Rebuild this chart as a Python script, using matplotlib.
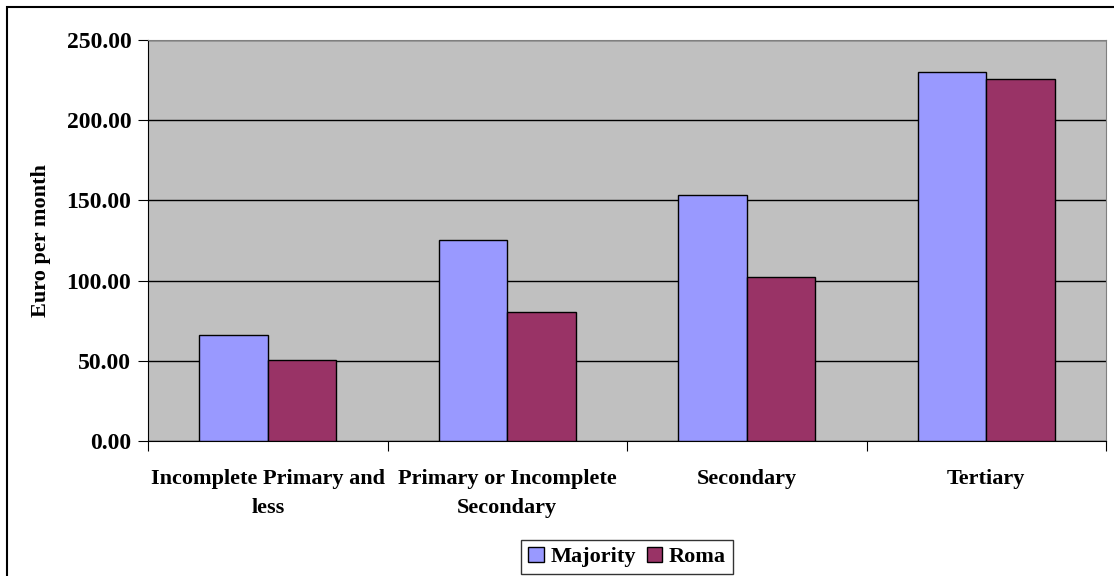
import numpy as np
import matplotlib.pyplot as plt

# Werte
categories = ["Incomplete Primary and\nless", "Primary or Incomplete\nSecondary",
              "Secondary", "Tertiary"]
majority = [66.0, 125.3, 153.4, 230.0]
roma = [50.5, 80.4, 102.2, 225.6]
yticks = [0, 50, 100, 150, 200, 250]

plt.rcParams['font.family'] = ['Liberation Serif', 'DejaVu Serif']
plt.rcParams['font.weight'] = 'bold'

fig = plt.figure(figsize=(11.14, 5.76), dpi=100)
ax = fig.add_axes([148/1114, 1 - 441/576, (1106-148)/1114, (441-40)/576])

x = np.arange(len(categories))
w = 0.286
ax.bar(x - w/2, majority, w, color='#9999ff', edgecolor='black', linewidth=1.0,
       label='Majority', zorder=3)
ax.bar(x + w/2, roma, w, color='#993366', edgecolor='black', linewidth=1.0,
       label='Roma', zorder=3)

ax.set_facecolor('#c0c0c0')
ax.set_xlim(-0.5, len(categories) - 0.5)
ax.set_ylim(0, 250)
ax.set_yticks(yticks)
ax.set_yticklabels(["{:.2f}".format(v) for v in yticks], fontsize=17, fontweight='bold')
ax.yaxis.grid(True, color='black', linewidth=1.0, zorder=0)
ax.set_axisbelow(True)

# Kategorie-Ticks an den Grenzen, Beschriftungen in der Mitte
ax.set_xticks(np.arange(len(categories) + 1) - 0.5)
ax.set_xticklabels([])
ax.set_xticks(x, minor=True)
ax.set_xticklabels(categories, minor=True, fontsize=16, fontweight='bold',
                   linespacing=1.6)
ax.tick_params(axis='x', which='minor', length=0, pad=20)
ax.tick_params(axis='x', which='major', length=7, direction='out', color='black')
ax.tick_params(axis='y', length=7, direction='out', pad=5)

for side in ['top', 'right']:
    ax.spines[side].set_color('#808080')
for side in ['left', 'bottom']:
    ax.spines[side].set_color('black')

ax.set_ylabel('Euro per month', fontsize=16, fontweight='bold', labelpad=11)

leg = ax.legend(loc='upper center', bbox_to_anchor=(0.5, -0.247), ncol=2,
                frameon=True, fancybox=False, edgecolor='black',
                handlelength=0.7, handleheight=0.7, handletextpad=0.3,
                columnspacing=0.5, borderpad=0.3, borderaxespad=0,
                prop={'weight': 'bold', 'size': 16})
leg.get_frame().set_linewidth(1.0)

# Rahmen um das ganze Diagramm (rechts und unten abgeschnitten)
fig.patches.append(plt.Rectangle((7/1114, -0.1), 1.2, 1.1 - 7/576,
                                 transform=fig.transFigure, fill=False,
                                 edgecolor='black', linewidth=1.5))

fig.savefig('out.png', dpi=100, facecolor='white')
